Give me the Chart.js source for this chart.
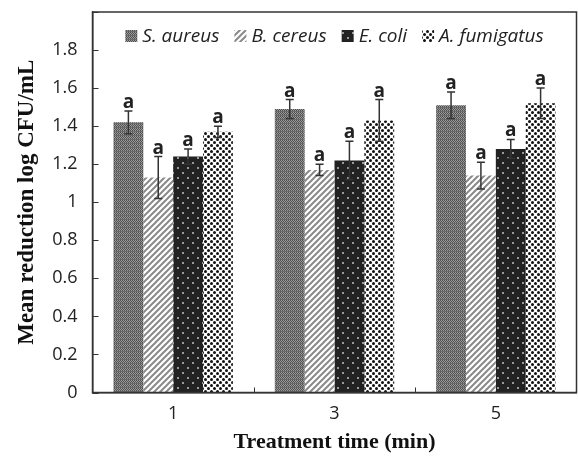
<!DOCTYPE html>
<html><head><meta charset="utf-8">
<script src="https://cdn.jsdelivr.net/npm/chart.js@4/dist/chart.umd.min.js"></script>
<style>html,body{margin:0;padding:0;background:#fff}</style>
</head><body>
<canvas id="c" width="578" height="461" style="display:block;width:578px;height:461px"></canvas>
<script>
// ---- data ----
const categories = ['1', '3', '5'];
const seriesNames = ['S. aureus', 'B. cereus', 'E. coli', 'A. fumigatus'];
const sAureus = [1.42, 1.49, 1.51];
const sAureusErr = [0.06, 0.05, 0.07];
const bCereus = [1.13, 1.17, 1.14];
const bCereusErr = [0.11, 0.03, 0.07];
const eColi = [1.24, 1.22, 1.28];
const eColiErr = [0.04, 0.10, 0.05];
const aFumigatus = [1.37, 1.43, 1.52];
const aFumigatusErr = [0.03, 0.11, 0.08];
const sAureusLetters = ['a', 'a', 'a'];
const bCereusLetters = ['a', 'a', 'a'];
const eColiLetters = ['a', 'a', 'a'];
const aFumigatusLetters = ['a', 'a', 'a'];
const yTickValues = [0, 0.2, 0.4, 0.6, 0.8, 1, 1.2, 1.4, 1.6, 1.8, 2];
const yTickLabels = ['0', '0.2', '0.4', '0.6', '0.8', '1', '1.2', '1.4', '1.6', '1.8', ''];
const yMax = 2;

// ---- patterns ----
function makePattern(w, h, draw) {
  const c = document.createElement('canvas');
  c.width = w; c.height = h;
  const g = c.getContext('2d');
  draw(g, w, h);
  return document.getElementById('c').getContext('2d').createPattern(c, 'repeat');
}
const patSA = makePattern(4, 4, (g) => {
  g.fillStyle = '#9a9a9a'; g.fillRect(0, 0, 4, 4);
  g.fillStyle = '#505050';
  g.fillRect(0, 0, 1, 1); g.fillRect(2, 0, 1, 1); g.fillRect(1, 1, 1, 1); g.fillRect(3, 1, 1, 1);
  g.fillRect(0, 2, 1, 1); g.fillRect(2, 2, 1, 1); g.fillRect(1, 3, 1, 1); g.fillRect(3, 3, 1, 1);
  g.fillStyle = '#6a6a6a'; g.fillRect(0, 3, 4, 1);
});
const patBC = makePattern(6, 6, (g) => {
  g.fillStyle = '#ffffff'; g.fillRect(0, 0, 6, 6);
  g.strokeStyle = '#8a8a8a'; g.lineWidth = 2;
  g.beginPath();
  g.moveTo(-1, 7); g.lineTo(7, -1);
  g.moveTo(-7, 7); g.lineTo(1, -1);
  g.moveTo(5, 7); g.lineTo(13, -1);
  g.stroke();
});
const patEC = makePattern(10, 10, (g) => {
  g.fillStyle = '#222222'; g.fillRect(0, 0, 10, 10);
  g.fillStyle = '#9a9a9a';
  g.fillRect(2, 2, 2, 2); g.fillRect(7, 7, 2, 2);
});
const patAF = makePattern(6, 6, (g) => {
  g.fillStyle = '#ffffff'; g.fillRect(0, 0, 6, 6);
  g.fillStyle = '#111111';
  g.beginPath(); g.arc(1.5, 1.5, 1.5, 0, Math.PI * 2); g.fill();
  g.beginPath(); g.arc(4.5, 4.5, 1.5, 0, Math.PI * 2); g.fill();
});

const errs = [sAureusErr, bCereusErr, eColiErr, aFumigatusErr];
const letters = [sAureusLetters, bCereusLetters, eColiLetters, aFumigatusLetters];

const plotLeft = 92.5, plotTop = 12, plotRight = 576.5, plotBottom = 392.5;

const decorPlugin = {
  id: 'decor',
  afterDatasetsDraw(chart) {
    const ctx = chart.ctx;
    const y = chart.scales.y;
    ctx.save();
    chart.data.datasets.forEach((ds, di) => {
      const meta = chart.getDatasetMeta(di);
      meta.data.forEach((bar, i) => {
        const v = ds.data[i], e = errs[di][i];
        const yt = y.getPixelForValue(v + e), yb = y.getPixelForValue(v - e);
        const cx = bar.x;
        ctx.strokeStyle = '#333'; ctx.lineWidth = 1.5;
        ctx.beginPath();
        ctx.moveTo(cx, yt); ctx.lineTo(cx, yb);
        ctx.moveTo(cx - 4, yt); ctx.lineTo(cx + 4, yt);
        ctx.moveTo(cx - 4, yb); ctx.lineTo(cx + 4, yb);
        ctx.stroke();
        ctx.fillStyle = '#222';
        ctx.font = 'bold 19px "Open Sans"';
        ctx.textAlign = 'center'; ctx.textBaseline = 'alphabetic';
        ctx.fillText(letters[di][i], cx, yt - 3);
      });
    });
    ctx.restore();
  },
  afterDraw(chart) {
    const ctx = chart.ctx;
    const a = chart.chartArea;
    const y = chart.scales.y, x = chart.scales.x;
    ctx.save();
    ctx.strokeStyle = '#333'; ctx.lineWidth = 1.5;
    ctx.strokeRect(a.left, a.top, a.right - a.left, a.bottom - a.top);
    ctx.beginPath();
    yTickValues.forEach(v => {
      const py = Math.round(y.getPixelForValue(v)) + 0.5;
      ctx.moveTo(a.left, py); ctx.lineTo(a.left + 6, py);
    });
    for (let i = 1; i < categories.length; i++) {
      const px = Math.round((x.getPixelForValue(i - 1) + x.getPixelForValue(i)) / 2) + 0.5;
      ctx.moveTo(px, a.bottom); ctx.lineTo(px, a.bottom - 5);
    }
    ctx.lineWidth = 1;
    ctx.stroke();

    // legend inside plot area
    ctx.font = 'italic 19px "Open Sans"';
    const box = 12, gapText = 5, gapItem = 15;
    const items = chart.data.datasets.map(ds => ({ label: ds.label, fill: ds.backgroundColor, w: ctx.measureText(ds.label).width }));
    const total = items.reduce((s, it) => s + box + gapText + it.w, 0) + gapItem * (items.length - 1);
    let lx = (a.left + a.right) / 2 - total / 2;
    const ly = a.top + 24;
    items.forEach(it => {
      ctx.fillStyle = it.fill;
      ctx.fillRect(lx, ly - box / 2, box, box);
      ctx.fillStyle = '#222';
      ctx.textAlign = 'left'; ctx.textBaseline = 'middle';
      ctx.fillText(it.label, lx + box + gapText, ly + 1);
      lx += box + gapText + it.w + gapItem;
    });
    ctx.restore();
  }
};

new Chart(document.getElementById('c'), {
  type: 'bar',
  data: {
    labels: categories,
    datasets: [
      { label: seriesNames[0], data: sAureus, backgroundColor: patSA },
      { label: seriesNames[1], data: bCereus, backgroundColor: patBC },
      { label: seriesNames[2], data: eColi, backgroundColor: patEC },
      { label: seriesNames[3], data: aFumigatus, backgroundColor: patAF }
    ]
  },
  options: {
    responsive: false,
    devicePixelRatio: 1,
    animation: false,
    layout: { padding: { top: plotTop, right: 578 - plotRight, left: 0, bottom: 0 } },
    datasets: { bar: { categoryPercentage: 0.74, barPercentage: 1, borderWidth: 0 } },
    plugins: {
      legend: { display: false },
      tooltip: { enabled: false }
    },
    scales: {
      x: {
        grid: { display: false, drawTicks: false },
        border: { color: '#333', width: 1.5 },
        ticks: { color: '#222', padding: 11, font: { family: '"Open Sans"', size: 18 } },
        title: {
          display: true, text: 'Treatment time (min)', color: '#111',
          font: { family: '"Liberation Serif"', size: 22, weight: 'bold' },
          padding: { top: 4, bottom: 5 }
        },
        afterFit(s) { s.height = 461 - plotBottom; s.paddingLeft = 0; s.paddingRight = 0; }
      },
      y: {
        min: 0, max: yMax,
        grid: { display: false, drawTicks: false },
        border: { color: '#333', width: 1.5 },
        afterBuildTicks(s) { s.ticks = yTickValues.map(v => ({ value: v })); },
        ticks: {
          color: '#222', padding: 15,
          font: { family: '"Open Sans"', size: 18 },
          callback: (v, i) => yTickLabels[i]
        },
        title: {
          display: true, text: 'Mean reduction log CFU/mL', color: '#111',
          font: { family: '"Liberation Serif"', size: 23, weight: 'bold' },
          padding: { top: 13, bottom: 0 }
        },
        afterFit(s) { s.width = plotLeft; s.paddingTop = 0; s.paddingBottom = 0; }
      }
    }
  },
  plugins: [decorPlugin]
});
</script>
</body></html>
